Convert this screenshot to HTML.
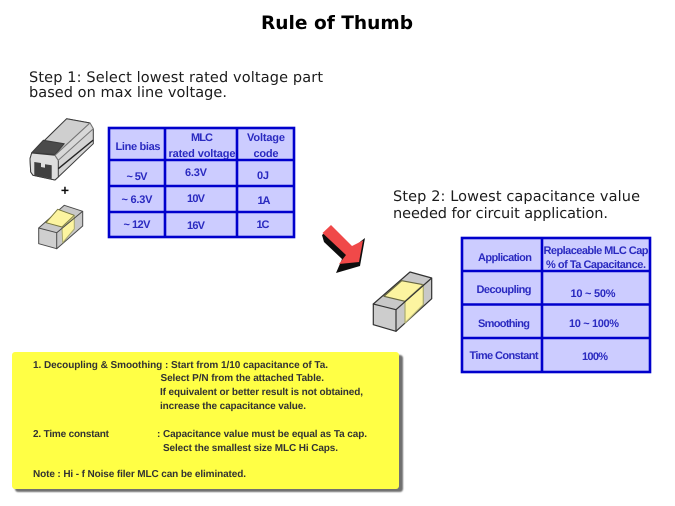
<!DOCTYPE html>
<html><head><meta charset="utf-8"><style>
html,body{margin:0;padding:0;background:#fff}
svg{display:block;text-rendering:geometricPrecision}
.s{font-family:"DejaVu Sans",sans-serif;font-size:14.5px;fill:#1a1a1a}
.t{font-family:"Liberation Sans",sans-serif;font-weight:bold;font-size:11px;fill:#2a2ac0;text-anchor:middle}
.y{font-family:"Liberation Sans",sans-serif;font-weight:bold;font-size:10px;fill:#333}
</style></head><body>
<svg width="675" height="506" viewBox="0 0 675 506" xmlns="http://www.w3.org/2000/svg">
<defs>
<filter id="b" x="-2%" y="-2%" width="104%" height="104%"><feGaussianBlur stdDeviation="0.35"/></filter>
<filter id="b2" x="-5%" y="-5%" width="110%" height="110%"><feGaussianBlur stdDeviation="0.9"/></filter>
</defs>
<rect width="675" height="506" fill="#fff"/>
<g filter="url(#b)">
<text x="261" y="29" textLength="152" lengthAdjust="spacingAndGlyphs" font-family="DejaVu Sans, sans-serif" font-weight="bold" font-size="18.500" fill="#000">Rule of Thumb</text>
<text class="s" x="29" y="82" textLength="294">Step 1: Select lowest rated voltage part</text>
<text class="s" x="29" y="97" textLength="198">based on max line voltage.</text>
<text class="s" x="393" y="201" textLength="247">Step 2: Lowest capacitance value</text>
<text class="s" x="393" y="218" textLength="215">needed for circuit application.</text>

<!-- large tantalum body -->
<g stroke="#3a3a3a" stroke-width="1" stroke-linejoin="round">
<path d="M31.700 153L66.700 118.700L90 123L93.300 128.700L93.300 143.700L58.300 177L55 180L33 175.300L30.700 172L30 158.700Z" fill="#d4d4d4"/>
<path d="M31.700 153L66.700 118.700L90 123L55 155.300Z" fill="#cfcfcf"/>
<path d="M31.700 152.700L43.300 140.300L64.300 143.700L55 154.500Z" fill="#4b4b4b"/>
<path d="M31.700 153L55 155.300L58.300 160.300L58.300 177L55 180L33 175.300L30.700 172L30 158.700Z" fill="#dedede"/>
<path d="M55 155.300L58.300 160.300L93.300 128.700L90 123Z" fill="#d8d8d8" stroke="#777"/>
<path d="M58.300 168.700L93.300 140" fill="none" stroke="#222" stroke-width="1.400"/>
<path d="M34.300 162L41 163L41 167L45 167.700L45 164.300L51.700 165.300L51.700 178.700L34.300 175.300Z" fill="#3f3f3f" stroke="none"/>
</g>
<text x="65" y="195" font-family="Liberation Sans, sans-serif" font-weight="bold" font-size="14" fill="#111" text-anchor="middle">+</text>

<!-- small capacitor -->
<g stroke="#4a4a4a" stroke-width="1" stroke-linejoin="round">
<path d="M38.700 228L64.300 205.300L82.700 211.300L82.700 226L56.700 248.700Z" fill="#c8c8c8"/>
<path d="M46 222.700L57.700 209.300L74.300 215.300L62 227Z" fill="#fcf4a0" stroke="#777740"/>
<path d="M62 228L74.300 216L74.300 229L62.700 242.700Z" fill="#fcf4a0" stroke="#aaaa70"/>
<path d="M38.700 228L56.700 232.700L56.700 248.700L38.700 243.700Z" fill="#cfcfcf"/>
<path d="M56.700 232.700L82.700 211.300" fill="none"/>
</g>

<!-- table 1 -->
<g fill="#ccccff" stroke="#0000cc" stroke-width="2.600">
<rect x="109" y="128" width="185" height="109"/>
<path d="M165 128V237M237 128V237M109 160H294M109 186H294M109 212H294" fill="none"/>
</g>
<text class="t" x="138" y="150" textLength="45">Line bias</text>
<text class="t" x="202" y="141" textLength="22">MLC</text>
<text class="t" x="202" y="157" textLength="67">rated voltage</text>
<text class="t" x="266" y="141" textLength="38">Voltage</text>
<text class="t" x="266" y="157" textLength="25">code</text>
<text class="t" x="137" y="180" textLength="21">~ 5V</text>
<text class="t" x="196" y="176" textLength="22">6.3V</text>
<text class="t" x="263" y="179" textLength="12">0J</text>
<text class="t" x="137" y="203" textLength="31">~ 6.3V</text>
<text class="t" x="196" y="202" textLength="18">10V</text>
<text class="t" x="264" y="204" textLength="13">1A</text>
<text class="t" x="137" y="228" textLength="27">~ 12V</text>
<text class="t" x="196" y="229" textLength="18">16V</text>
<text class="t" x="263" y="228" textLength="13">1C</text>

<!-- arrow -->
<path d="M322 235L324 242L342 259L336 273L360 266L365 238L352 248L331 228Z" fill="#111"/>
<path d="M322.500 233L331 225L352 246L363 240.500L359 262L339 264L346 255Z" fill="#f04a4a"/>

<!-- large capacitor -->
<g stroke="#333" stroke-width="1.200" stroke-linejoin="round">
<path d="M373.300 304L410 272L431.700 278L431.700 298.700L396 331.300Z" fill="#c8c8c8"/>
<path d="M384 296.300L401.700 280.700L423.300 284.700L405 301.300Z" fill="#fcf4a0" stroke="#666640"/>
<path d="M405 301.300L423.300 284.700V304.700L405 323Z" fill="#fcf4a0" stroke="#aaaa70"/>
<path d="M373.300 304L396 309.700L396 331.300L373.300 324.700Z" fill="#cdcdcd"/>
<path d="M396 309.700L431.700 278" fill="none"/>
</g>

<!-- table 2 -->
<g fill="#ccccff" stroke="#0000cc" stroke-width="2.600">
<rect x="462" y="238" width="188" height="134"/>
<path d="M542 238V372M462 271H650M462 304.500H650M462 338H650" fill="none"/>
</g>
<text class="t" x="505" y="261" textLength="54">Application</text>
<text class="t" x="596" y="254" textLength="105">Replaceable MLC Cap</text>
<text class="t" x="596" y="268" textLength="100">% of Ta Capacitance.</text>
<text class="t" x="504" y="293" textLength="55">Decoupling</text>
<text class="t" x="593" y="297" textLength="45">10 ~ 50%</text>
<text class="t" x="504" y="327" textLength="52">Smoothing</text>
<text class="t" x="594" y="327" textLength="50">10 ~ 100%</text>
<text class="t" x="504" y="359" textLength="69">Time Constant</text>
<text class="t" x="595" y="360" textLength="26">100%</text>

<!-- note box -->
<rect x="15" y="355" width="388" height="137" rx="3" fill="#707070" filter="url(#b2)"/>
<rect x="12" y="352" width="387" height="137" rx="3" fill="#ffff44"/>
<text class="y" x="33" y="368" textLength="295">1. Decoupling &amp; Smoothing : Start from 1/10 capacitance of Ta.</text>
<text class="y" x="160.500" y="381" textLength="163.500">Select P/N from the attached Table.</text>
<text class="y" x="160" y="395" textLength="203">If equivalent or better result is not obtained,</text>
<text class="y" x="160" y="409" textLength="146">increase the capacitance value.</text>
<text class="y" x="33" y="437" textLength="76">2. Time constant</text>
<text class="y" x="157" y="437" textLength="210">: Capacitance value must be equal as Ta cap.</text>
<text class="y" x="163" y="451" textLength="175">Select the smallest size MLC Hi Caps.</text>
<text class="y" x="33" y="477" textLength="213">Note : Hi - f Noise filer MLC can be eliminated.</text>
</g>
</svg>
</body></html>
